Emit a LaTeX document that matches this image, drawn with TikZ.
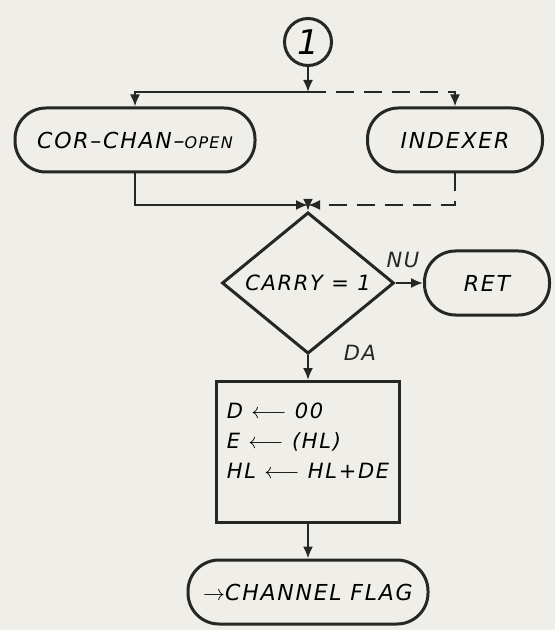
\documentclass[tikz,border=0pt]{standalone}
\usepackage{fontspec}
\usetikzlibrary{arrows.meta,positioning,shapes.geometric,calc}
\newfontfamily\hand{DejaVu Sans}[LetterSpace=8]
\definecolor{paper}{RGB}{239,238,233}
\definecolor{ink}{RGB}{38,38,38}
\tikzset{
  term/.style={draw=ink, line width=1.5pt, rounded corners=15.5pt, minimum height=32pt, inner sep=2pt, font=\hand\itshape\fontsize{11}{13}\selectfont},
  dec/.style={draw=ink, diamond, line width=1.5pt, inner sep=0pt, minimum width=86pt, minimum height=58pt, font=\hand\itshape\fontsize{10.5}{12}\selectfont},
  proc/.style={draw=ink, rectangle, line width=1.5pt, minimum width=91.5pt, minimum height=70.5pt, font=\hand\itshape\fontsize{10.5}{15}\selectfont},
  conn/.style={draw=ink, line width=1pt},
  arr/.style={conn, -{Latex[length=6pt,width=5pt]}},
  dsh/.style={dash pattern=on 9pt off 5pt},
  lbl/.style={text=ink, font=\hand\itshape\fontsize{10.5}{12}\selectfont}
}
\begin{document}
\begin{tikzpicture}[x=0.5pt, y=-0.5pt]
\fill[paper] (0,0) rectangle (555,630);
\useasboundingbox (0,0) rectangle (555,630);
% nodes
\node[circle, draw=ink, line width=1.5pt, minimum size=23.5pt, inner sep=0pt, font=\hand\itshape\fontsize{17}{20}\selectfont] (c1) at (308,42) {1};
\node[term, minimum width=120pt] (cor) at (135,140) {COR–CHAN–{\fontsize{8}{10}\selectfont OPEN}};
\node[term, minimum width=87.5pt] (idx) at (455,140) {INDEXER};
\coordinate (bus) at (308,92);
\coordinate (merge) at (308,205);
\node[dec] (carry) at (308,283) {CARRY = 1};
\node[term, minimum width=62.5pt] (ret) at (487,283) {RET};
\node[proc] (ops) at (308,452) {\begin{tabular}{@{}l@{}}D $\longleftarrow$ 00\\ E $\longleftarrow$ (HL)\\ HL $\longleftarrow$ HL+DE\\[10pt]\end{tabular}};
\node[term, minimum width=120pt] (chf) at (308,592) {$\rightarrow$CHANNEL FLAG};
\node[lbl] (nu) at (403,260) {NU};
\node[lbl] (da) at (360,353) {DA};
% connectors
\draw[arr] (c1) -- (bus);
\draw[arr] (bus) -| (cor.north);
\draw[arr, dsh] (bus) -| (idx.north);
\draw[arr] (cor.south) |- (merge);
\draw[arr, dsh] (idx.south) |- (merge);
\draw[arr] (merge) -- (carry.north);
\draw[arr] (carry.east) -- (ret.west);
\draw[arr] (carry.south) -- (ops.north);
\draw[arr] (ops.south) -- (chf.north);
\end{tikzpicture}
\end{document}
